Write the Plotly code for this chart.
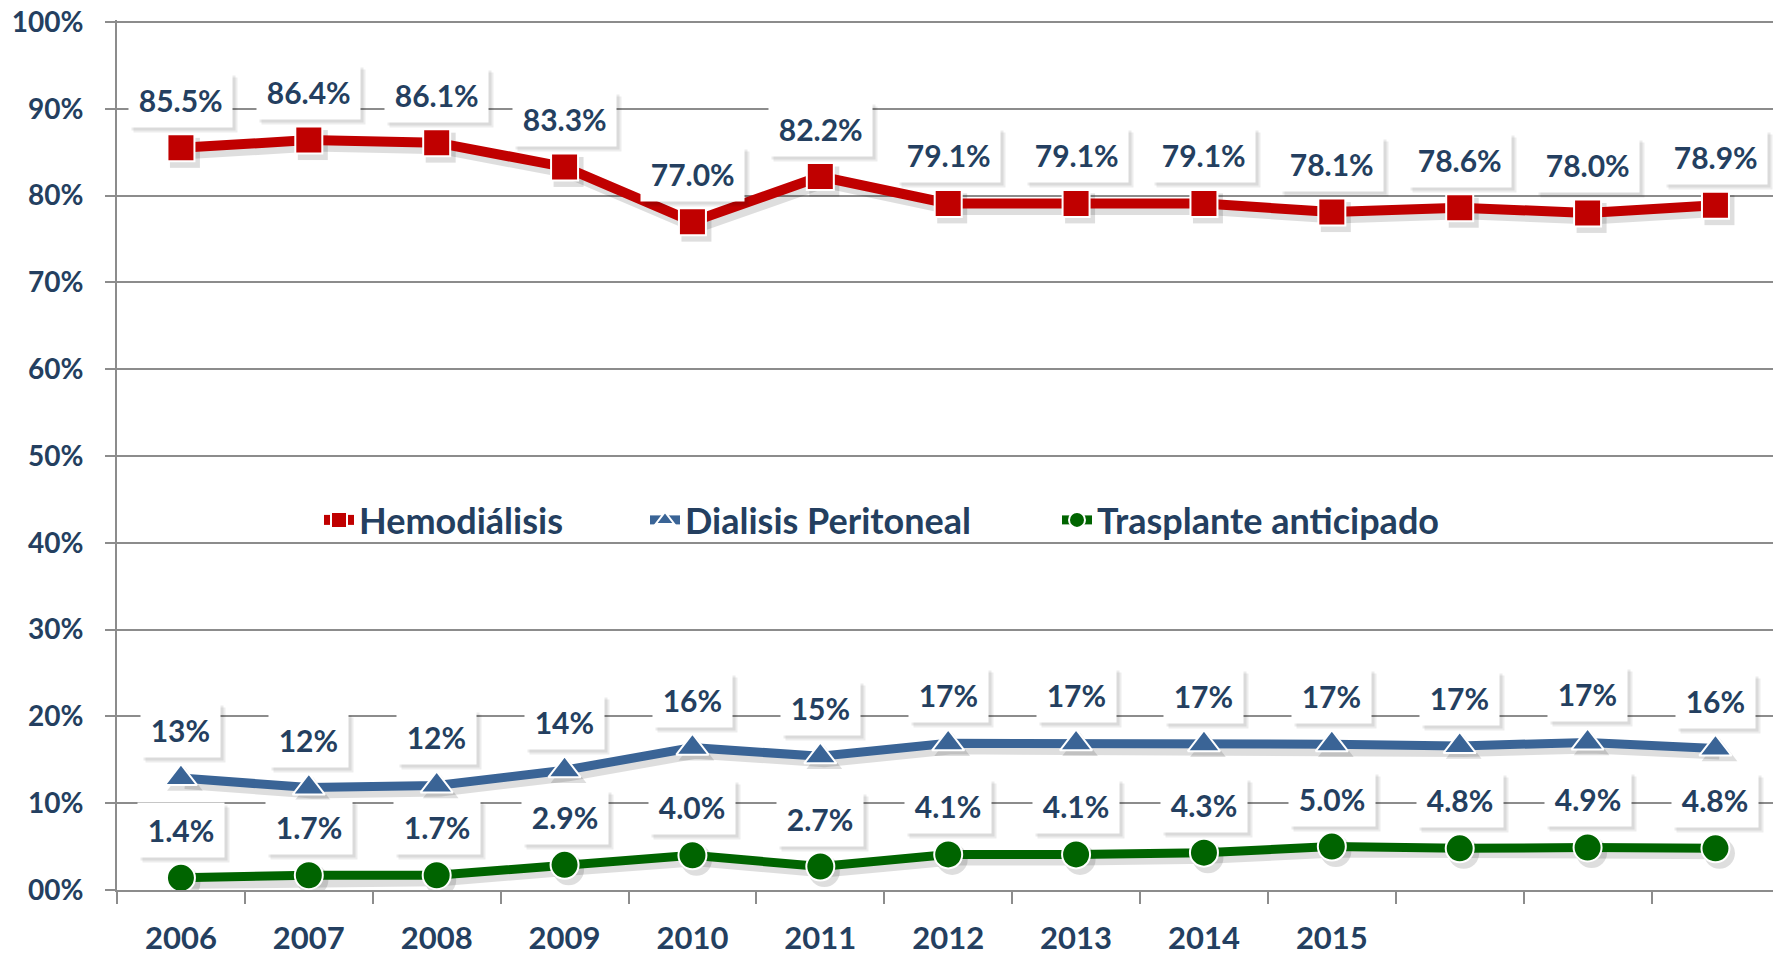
import plotly.graph_objects as go

categories = ["2006", "2007", "2008", "2009", "2010", "2011", "2012",
              "2013", "2014", "2015", "2016", "2017", "2018"]
x_tick_labels = ["2006", "2007", "2008", "2009", "2010", "2011", "2012",
                 "2013", "2014", "2015", "", "", ""]
y_tick_vals = [0, 10, 20, 30, 40, 50, 60, 70, 80, 90, 100]
y_tick_labels = ["00%", "10%", "20%", "30%", "40%", "50%", "60%", "70%",
                 "80%", "90%", "100%"]

hemodialisis = [85.5, 86.4, 86.1, 83.3, 77.0, 82.2, 79.1, 79.1, 79.1, 78.1, 78.6, 78.0, 78.9]
peritoneal = [12.9, 11.8, 12.05, 13.8, 16.4, 15.4, 16.9, 16.9, 16.8, 16.8, 16.6, 17.0, 16.3]
trasplante = [1.4, 1.7, 1.7, 2.9, 4.0, 2.7, 4.1, 4.1, 4.3, 5.0, 4.8, 4.9, 4.8]

series = [
    dict(name="Hemodiálisis", y=hemodialisis, color="#C00000", symbol="square",
         lw=10, ms=27, fmt="{:.1f}%", legend="legend"),
    dict(name="Dialisis Peritoneal", y=peritoneal, color="#3A6496", symbol="triangle-up",
         lw=9, ms=28, fmt="{:.0f}%", legend="legend2"),
    dict(name="Trasplante anticipado", y=trasplante, color="#006400", symbol="circle",
         lw=9, ms=28, fmt="{:.1f}%", legend="legend3"),
]

NAVY = "#243F60"
GRID = "#8C8C8C"
FONT = "Lato"
LBL_SIZE = 30

W, H = 1773, 959
ML, MR, MT, MB = 117, 0, 20, 69
x_range = [-0.5, 12.45]
y_range = [0, 100.23]   # small headroom so the 100% tick is kept

plot_w = W - ML - MR
plot_h = H - MT - MB
px_per_cat = plot_w / (x_range[1] - x_range[0])
px_per_unit = plot_h / (y_range[1] - y_range[0])
sdx, sdy = 4, 5
x_range_sh = [x_range[0] - sdx / px_per_cat, x_range[1] - sdx / px_per_cat]
y_range_sh = [y_range[0] + sdy / px_per_unit, y_range[1] + sdy / px_per_unit]

fig = go.Figure()

# soft drop shadows
for s in series:
    fig.add_trace(go.Scatter(
        x=categories, y=s["y"], mode="lines+markers",
        line=dict(color="rgba(0,0,0,0.13)", width=s["lw"] + 3),
        marker=dict(symbol=s["symbol"], size=s["ms"] + 3, color="rgba(0,0,0,0.13)",
                    line=dict(width=0)),
        xaxis="x2", yaxis="y2", showlegend=False, hoverinfo="skip"))

# main series
for s in series:
    fig.add_trace(go.Scatter(
        x=categories, y=s["y"], name=s["name"], mode="lines+markers",
        line=dict(color=s["color"], width=s["lw"]),
        marker=dict(symbol=s["symbol"], size=s["ms"], color=s["color"],
                    line=dict(color="white", width=2)),
        xaxis="x3", yaxis="y3", legend=s["legend"]))


def box_width(txt):
    d = sum(ch.isdigit() for ch in txt)
    p = txt.count(".")
    return 0.58 * LBL_SIZE * d + 0.24 * LBL_SIZE * p + 0.8 * LBL_SIZE + 4


# data labels (x given as category index)
LBL_SHIFT = 48
BOX_H = 38
annotations = []
for s in series:
    for i, v in enumerate(s["y"]):
        txt = s["fmt"].format(v)
        bw = box_width(txt)
        for dx, dy, a in ((5, 5, 0.07), (3, 3, 0.08)):
            annotations.append(dict(
                x=i, y=v, xref="x", yref="y", text=" ", showarrow=False,
                width=bw, height=BOX_H,
                xshift=dx, yshift=LBL_SHIFT - dy, bgcolor=f"rgba(0,0,0,{a})",
                borderpad=8, font=dict(family=FONT, size=LBL_SIZE)))
        annotations.append(dict(
            x=i, y=v, xref="x", yref="y", text=txt, showarrow=False,
            width=bw, height=BOX_H,
            yshift=LBL_SHIFT, bgcolor="white", borderpad=8,
            font=dict(family=FONT, size=LBL_SIZE, color=NAVY, weight="bold")))

axis_common = dict(showgrid=False, zeroline=False, showticklabels=False,
                   fixedrange=True)

legend_common = dict(orientation="h", xref="paper", yref="paper",
                     yanchor="middle", y=(H - MB - 520) / plot_h,
                     bgcolor="rgba(0,0,0,0)",
                     font=dict(family=FONT, size=36, color=NAVY, weight="bold"),
                     itemsizing="trace")


def lx(px):
    return (px - ML) / plot_w


fig.update_layout(
    width=W, height=H,
    margin=dict(l=ML, r=MR, t=MT, b=MB, autoexpand=False),
    paper_bgcolor="white", plot_bgcolor="white",
    font=dict(family=FONT, color=NAVY),
    xaxis=dict(type="category", categoryorder="array", categoryarray=categories,
               range=x_range, tickmode="array", tickvals=categories,
               ticktext=x_tick_labels, tickson="boundaries", ticks="outside",
               ticklen=12, tickwidth=2, tickcolor=GRID, showline=True,
               linecolor=GRID, linewidth=2, showgrid=False, zeroline=False,
               ticklabelstandoff=20,
               tickfont=dict(family=FONT, size=31, color=NAVY, weight="bold")),
    yaxis=dict(range=y_range, tickmode="array", tickvals=y_tick_vals,
               ticktext=y_tick_labels, ticks="outside", ticklen=10, tickwidth=2,
               tickcolor=GRID, showline=True, linecolor=GRID, linewidth=2,
               showgrid=True, gridcolor=GRID, gridwidth=2, zeroline=False,
               ticklabelstandoff=16,
               tickfont=dict(family=FONT, size=28, color=NAVY, weight="bold")),
    xaxis2=dict(type="category", categoryorder="array", categoryarray=categories,
                range=x_range_sh, overlaying="x", **axis_common),
    yaxis2=dict(range=y_range_sh, overlaying="y", **axis_common),
    xaxis3=dict(type="category", categoryorder="array", categoryarray=categories,
                range=x_range, overlaying="x", **axis_common),
    yaxis3=dict(range=y_range, overlaying="y", **axis_common),
    legend=dict(x=lx(319), **legend_common),
    legend2=dict(x=lx(645), **legend_common),
    legend3=dict(x=lx(1057), **legend_common),
    annotations=annotations,
    showlegend=True,
)

fig.write_html("out.html",
               config={"displayModeBar": False},
               post_script="document.body.style.margin='0';"
                           "document.body.style.overflow='hidden';")
